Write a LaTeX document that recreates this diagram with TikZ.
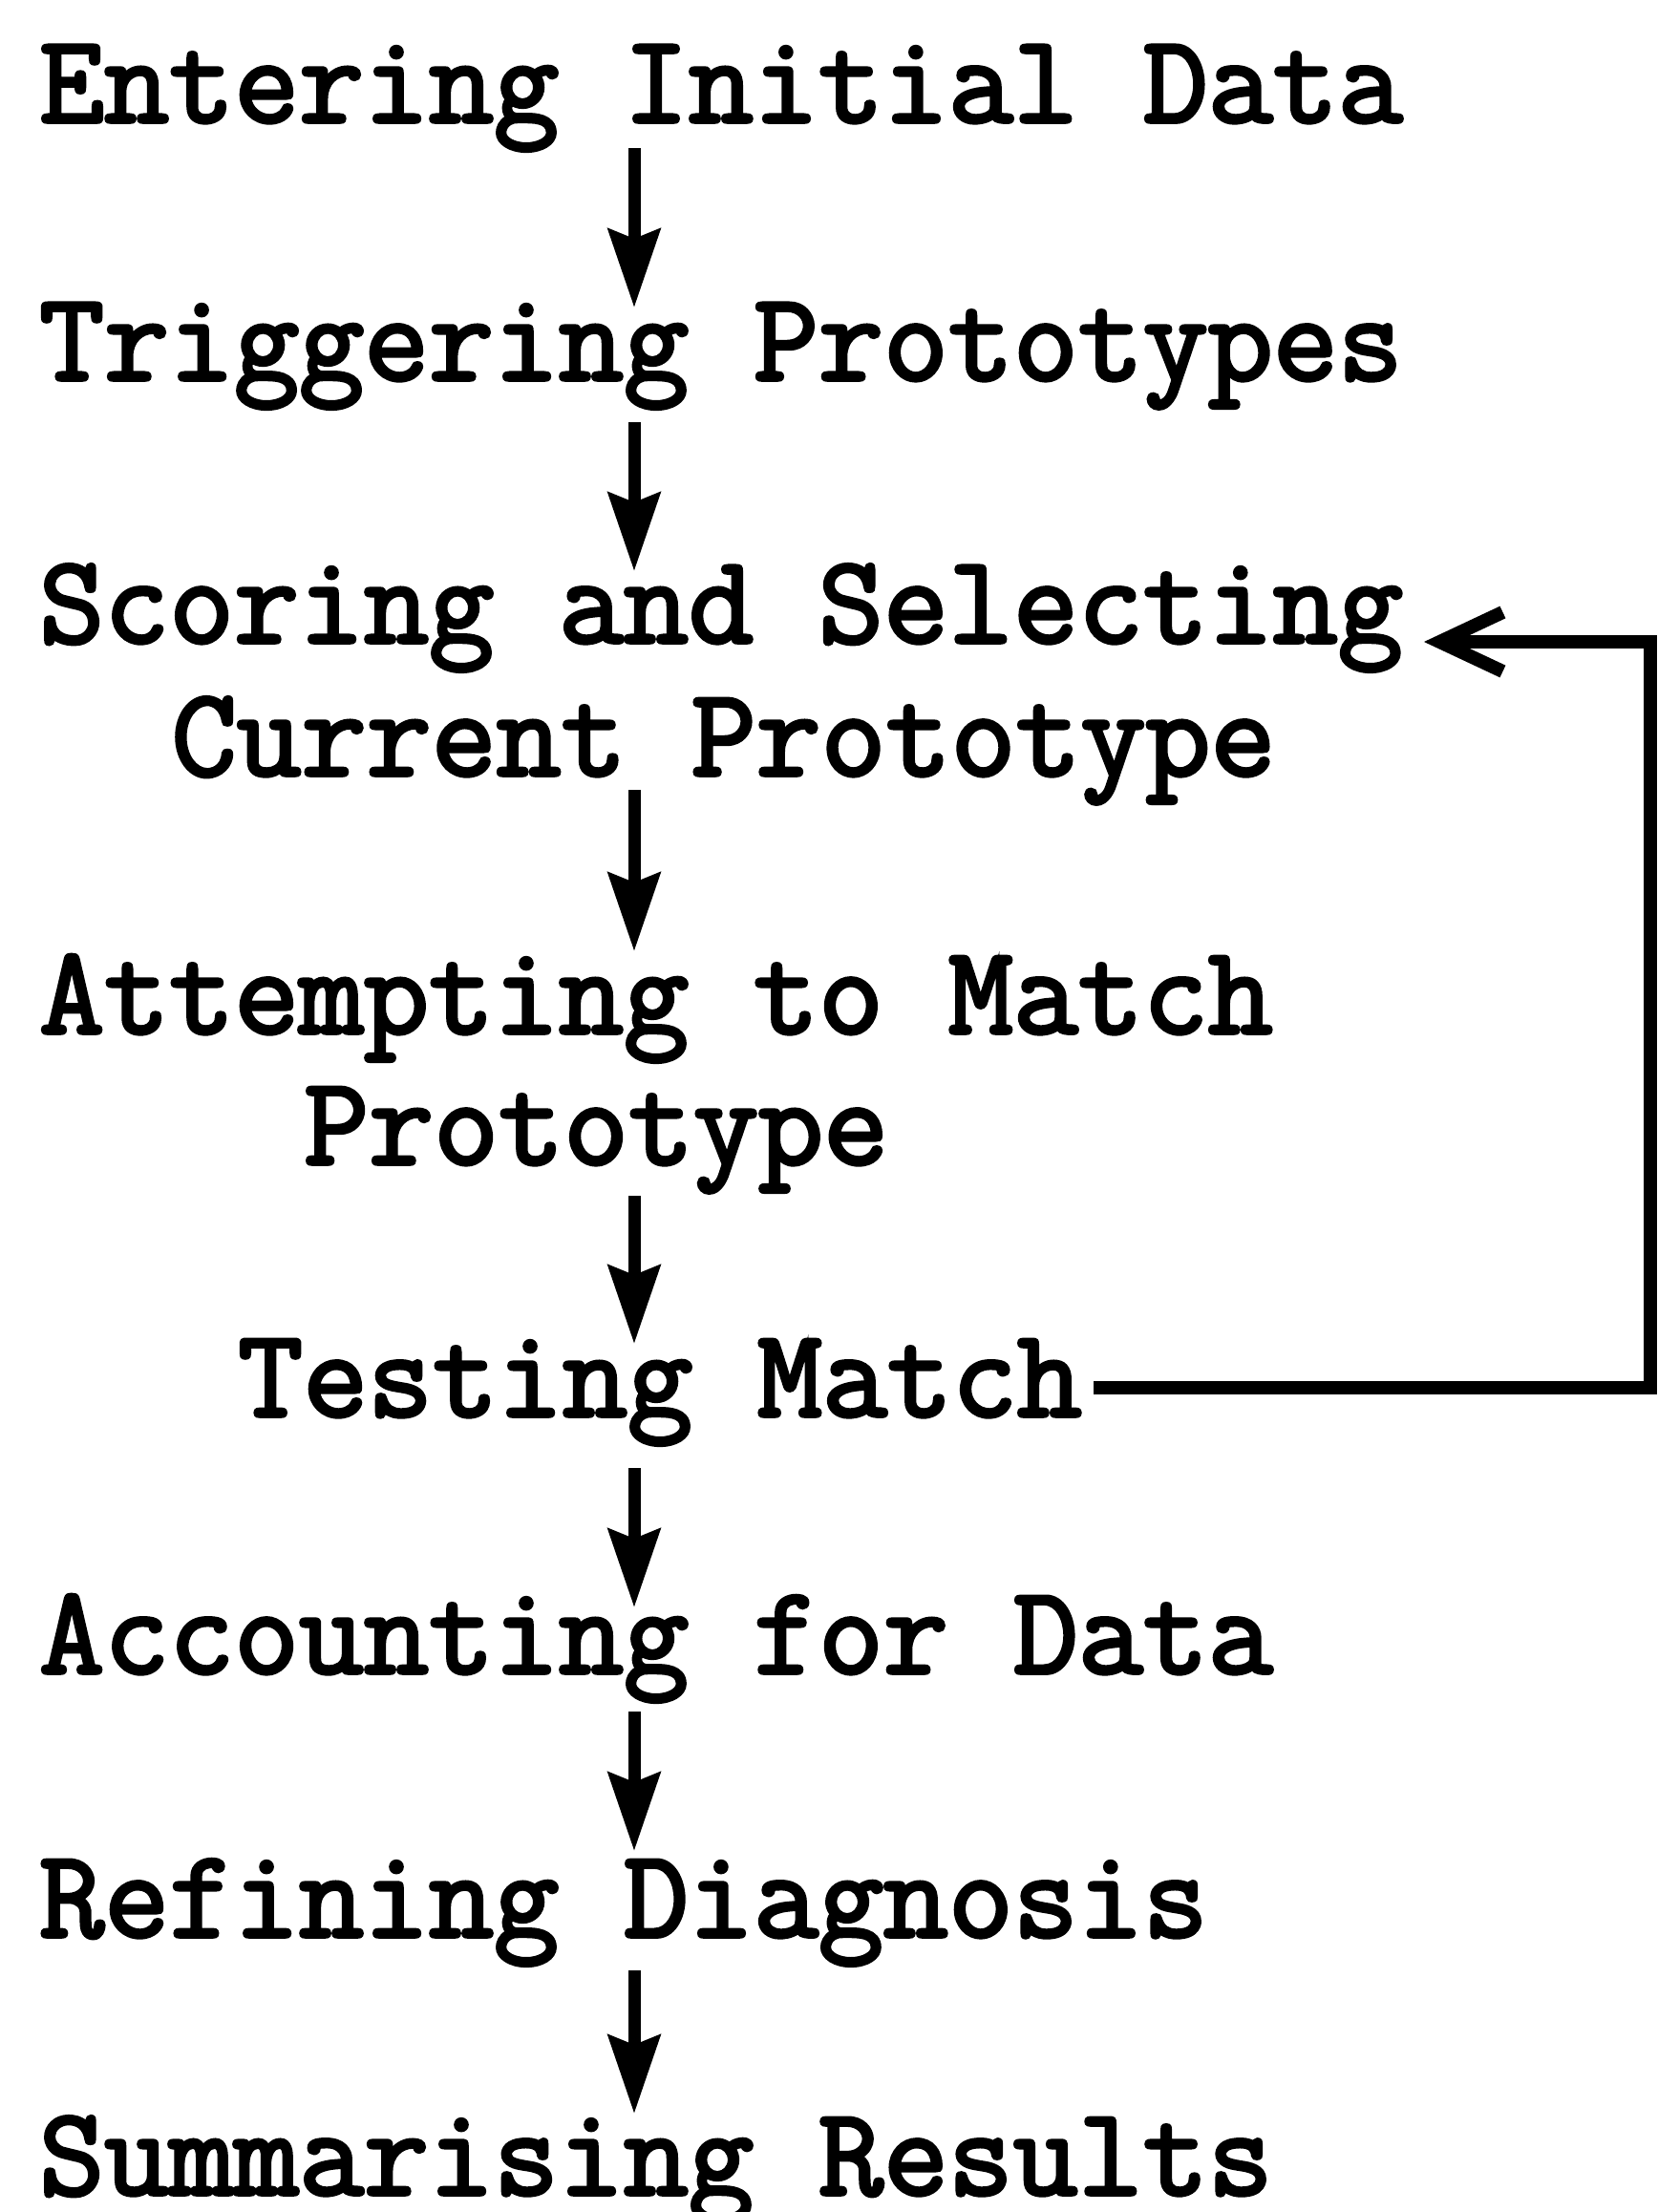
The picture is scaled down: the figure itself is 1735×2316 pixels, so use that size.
\documentclass[tikz,border=0pt]{standalone}
\usepackage{fontspec}
\newfontfamily\twfont[FakeBold=2.8]{Latin Modern Mono}
\usetikzlibrary{arrows.meta,calc}
\begin{document}
\begin{tikzpicture}[x=1pt,y=-1pt,
  lbl/.style={anchor=base west, inner sep=0pt, font=\twfont\fontsize{132}{150}\selectfont},
  varr/.style={line width=13pt, -{Stealth[length=82pt,width=54pt,inset=10pt]}},
  fb/.style={line width=14pt, -{Straight Barb[length=66pt,width=62pt]}}]
\useasboundingbox (0,0) rectangle (1735,2316);

\node[lbl] (n1)  at (41,128)    {Entering Initial Data};
\node[lbl] (n2)  at (41,398)    {Triggering Prototypes};
\node[lbl] (n3)  at (41,673)    {Scoring and Selecting};
\node[lbl] (n4)  at (179.6,812) {Current Prototype};
\node[lbl] (n5)  at (41,1082)   {Attempting to Match};
\node[lbl] (n6)  at (318,1219)  {Prototype};
\node[lbl] (n7)  at (249,1483)  {Testing Match};
\node[lbl] (n8)  at (41,1752)   {Accounting for Data};
\node[lbl] (n9)  at (41,2028)   {Refining Diagnosis};
\node[lbl] (n10) at (41,2298)   {Summarising Results};

\coordinate (ax) at (664,0);
\coordinate (rx) at (1728,0);

\draw[varr] ($(n1.base -| ax)+(0,27)$) -- ($(n2.base -| ax)+(0,-76)$);
\draw[varr] ($(n2.base -| ax)+(0,44)$) -- ($(n3.base -| ax)+(0,-75)$);
\draw[varr] ($(n4.base -| ax)+(0,15)$) -- ($(n5.base -| ax)+(0,-86)$);
\draw[varr] ($(n6.base -| ax)+(0,33)$) -- ($(n7.base -| ax)+(0,-76)$);
\draw[varr] ($(n7.base -| ax)+(0,54)$) -- ($(n8.base -| ax)+(0,-69)$);
\draw[varr] ($(n8.base -| ax)+(0,40)$) -- ($(n9.base -| ax)+(0,-90)$);
\draw[varr] ($(n9.base -| ax)+(0,35)$) -- ($(n10.base -| ax)+(0,-85)$);

\draw[fb] ($(n7.base east)+(12,-30)$) -| ($(n3.base -| rx)+(0,-1)$) -- ($(n3.base east)+(22,-1)$);
\end{tikzpicture}
\end{document}
